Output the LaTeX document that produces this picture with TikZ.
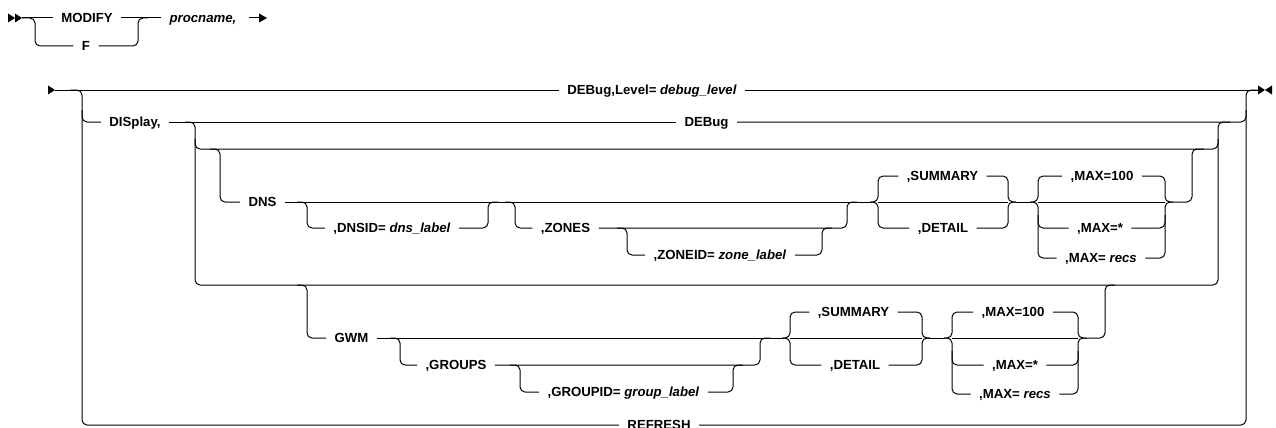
\documentclass[tikz,border=0pt]{standalone}
\usepackage{fontspec}
\newfontfamily\rrfont{Liberation Sans}
\begin{document}
\begin{tikzpicture}[x=1pt,y=-1pt,line width=1pt,line join=round,
  rr/.style={rounded corners=5pt},
  kw/.style={font=\rrfont\bfseries\fontsize{13.2}{15}\selectfont,inner xsep=8pt,inner ysep=0pt,text height=9.4pt,text depth=0pt},
  tip/.style={fill=black,draw=none}]
\useasboundingbox (0,0) rectangle (1276,428);
% ---------- row A ----------
\fill[tip] (8,13.5) -- (15,18) -- (8,22.5) -- cycle;
\fill[tip] (15,13.5) -- (22,18) -- (15,22.5) -- cycle;
\coordinate (startA) at (22,18);
\node[kw] (modify) at (87,18) {MODIFY};
\node[kw] (f) at (86,46) {F};
\node[kw] (proc) at (203,18) {\itshape procname,};
\coordinate (arrA) at (260,18);
\draw (startA) -- (modify.west);
\draw[rr] (startA) -- (35,18) -- (35,46) -- (f.west);
\draw (modify.east) -- (proc.west);
\draw[rr] (f.east) -- (138,46) -- (138,18) -- (148,18);
\draw ([xshift=4pt]proc.east) -- (arrA);
\fill[tip] (259,13.5) -- (267,18) -- (259,22.5) -- cycle;
% ---------- row B main ----------
\fill[tip] (48,85.5) -- (55,90) -- (48,94.5) -- cycle;
\coordinate (startB) at (55,90);
\coordinate (endB) at (1258,90);
\node[kw] (debuglevel) at (652,90) {DEBug,Level= \textit{debug\_level}};
\draw (startB) -- (debuglevel.west);
\draw (debuglevel.east) -- (endB);
\fill[tip] (1258,85.5) -- (1265,90) -- (1258,94.5) -- cycle;
\fill[tip] (1272,85.5) -- (1265,90) -- (1272,94.5) -- cycle;
% outer verticals and REFRESH
\node[kw] (refresh) at (659,425) {REFRESH};
\node[kw] (display) at (135,122) {DISplay,};
\node[kw] (debug) at (706.5,122) {DEBug};
\draw[rr] (70,90) -- (82,90) -- (82,425) -- (refresh.west);
\draw[rr] (refresh.east) -- (1246,425) -- (1246,90) -- (1258,90);
\draw[rr] (82,110) -- (82,122) -- (display.west);
\draw (display.east) -- (debug.west);
\draw[rr] (debug.east) -- (1246,122) -- (1246,110);
% x=195 split
\draw[rr] (185,122) -- (195,122) -- (195,285) -- (1218,285) -- (1218,122) -- (1230,122);
\draw[rr] (195,139) -- (195,149) -- (1218,149) -- (1218,139);
% ---------- DNS ----------
\node[kw] (dns) at (262.5,202) {DNS};
\node[kw] (dnsid) at (392,228) {,DNSID= \textit{dns\_label}};
\node[kw] (zones) at (565.5,228) {,ZONES};
\node[kw] (zoneid) at (720,255) {,ZONEID= \textit{zone\_label}};
\node[kw] (sum1) at (942.5,176) {,SUMMARY};
\node[kw] (det1) at (943,228) {,DETAIL};
\node[kw] (mh1) at (1102,176) {,MAX=100};
\node[kw] (ms1) at (1100,228) {,MAX=*};
\node[kw] (mr1) at (1101,258) {,MAX= \textit{recs}};
\draw[rr] (210,149) -- (220,149) -- (220,202) -- (dns.west);
\draw (dns.east) -- (870,202);
\draw (878,202) -- (1008,202);
\draw (1016,202) -- (1030,202);
\draw (1038,202) -- (1165,202);
\draw[rr] (297,202) -- (307,202) -- (307,228) -- (dnsid.west);
\draw[rr] (dnsid.east) -- (488,228) -- (488,202) -- (498,202);
\draw[rr] (505,202) -- (515,202) -- (515,228) -- (zones.west);
\draw[rr] (zones.east) -- (847,228) -- (847,202) -- (857,202);
\draw[rr] (617,228) -- (627,228) -- (627,255) -- (zoneid.west);
\draw[rr] (zoneid.east) -- (822,255) -- (822,228) -- (832,228);
% summary / detail braces
\draw[rr] (870,202) -- (878,202) -- (878,176) -- (sum1.west);
\draw[rr] (870,202) -- (878,202) -- (878,228) -- (det1.west);
\draw[rr] (sum1.east) -- (1008,176) -- (1008,202) -- (1016,202);
\draw[rr] (det1.east) -- (1008,228) -- (1008,202) -- (1016,202);
% max braces
\draw[rr] (1030,202) -- (1038,202) -- (1038,176) -- (mh1.west);
\draw[rr] (1030,202) -- (1038,202) -- (1038,258) -- (mr1.west);
\draw[rr] (1038,215) -- (1038,228) -- (ms1.west);
\draw[rr] (mh1.east) -- (1165,176) -- (1165,202) -- (1173,202);
\draw[rr] (mr1.east) -- (1165,258) -- (1165,202) -- (1173,202);
\draw[rr] (ms1.east) -- (1165,228) -- (1165,215);
\draw[rr] (1173,202) -- (1192,202) -- (1192,149) -- (1204,149);
% ---------- GWM ----------
\node[kw] (gwm) at (351.5,338) {GWM};
\node[kw] (groups) at (456,365) {,GROUPS};
\node[kw] (groupid) at (623.5,392) {,GROUPID= \textit{group\_label}};
\node[kw] (sum2) at (853.5,312) {,SUMMARY};
\node[kw] (det2) at (855,365) {,DETAIL};
\node[kw] (mh2) at (1013,312) {,MAX=100};
\node[kw] (ms2) at (1015,365) {,MAX=*};
\node[kw] (mr2) at (1015,394) {,MAX= \textit{recs}};
\draw[rr] (297,285) -- (307,285) -- (307,338) -- (gwm.west);
\draw (gwm.east) -- (782,338);
\draw (790,338) -- (922,338);
\draw (930,338) -- (944,338);
\draw (952,338) -- (1078,338);
\draw[rr] (390,338) -- (400,338) -- (400,365) -- (groups.west);
\draw[rr] (groups.east) -- (760,365) -- (760,338) -- (770,338);
\draw[rr] (510,365) -- (520,365) -- (520,392) -- (groupid.west);
\draw[rr] (groupid.east) -- (733,392) -- (733,365) -- (743,365);
\draw[rr] (782,338) -- (790,338) -- (790,312) -- (sum2.west);
\draw[rr] (782,338) -- (790,338) -- (790,365) -- (det2.west);
\draw[rr] (sum2.east) -- (922,312) -- (922,338) -- (930,338);
\draw[rr] (det2.east) -- (922,365) -- (922,338) -- (930,338);
\draw[rr] (944,338) -- (952,338) -- (952,312) -- (mh2.west);
\draw[rr] (944,338) -- (952,338) -- (952,394) -- (mr2.west);
\draw[rr] (952,351) -- (952,365) -- (ms2.west);
\draw[rr] (mh2.east) -- (1078,312) -- (1078,338) -- (1086,338);
\draw[rr] (mr2.east) -- (1078,394) -- (1078,338) -- (1086,338);
\draw[rr] (ms2.east) -- (1078,365) -- (1078,351);
\draw[rr] (1086,338) -- (1105,338) -- (1105,285) -- (1115,285);
\end{tikzpicture}
\end{document}
